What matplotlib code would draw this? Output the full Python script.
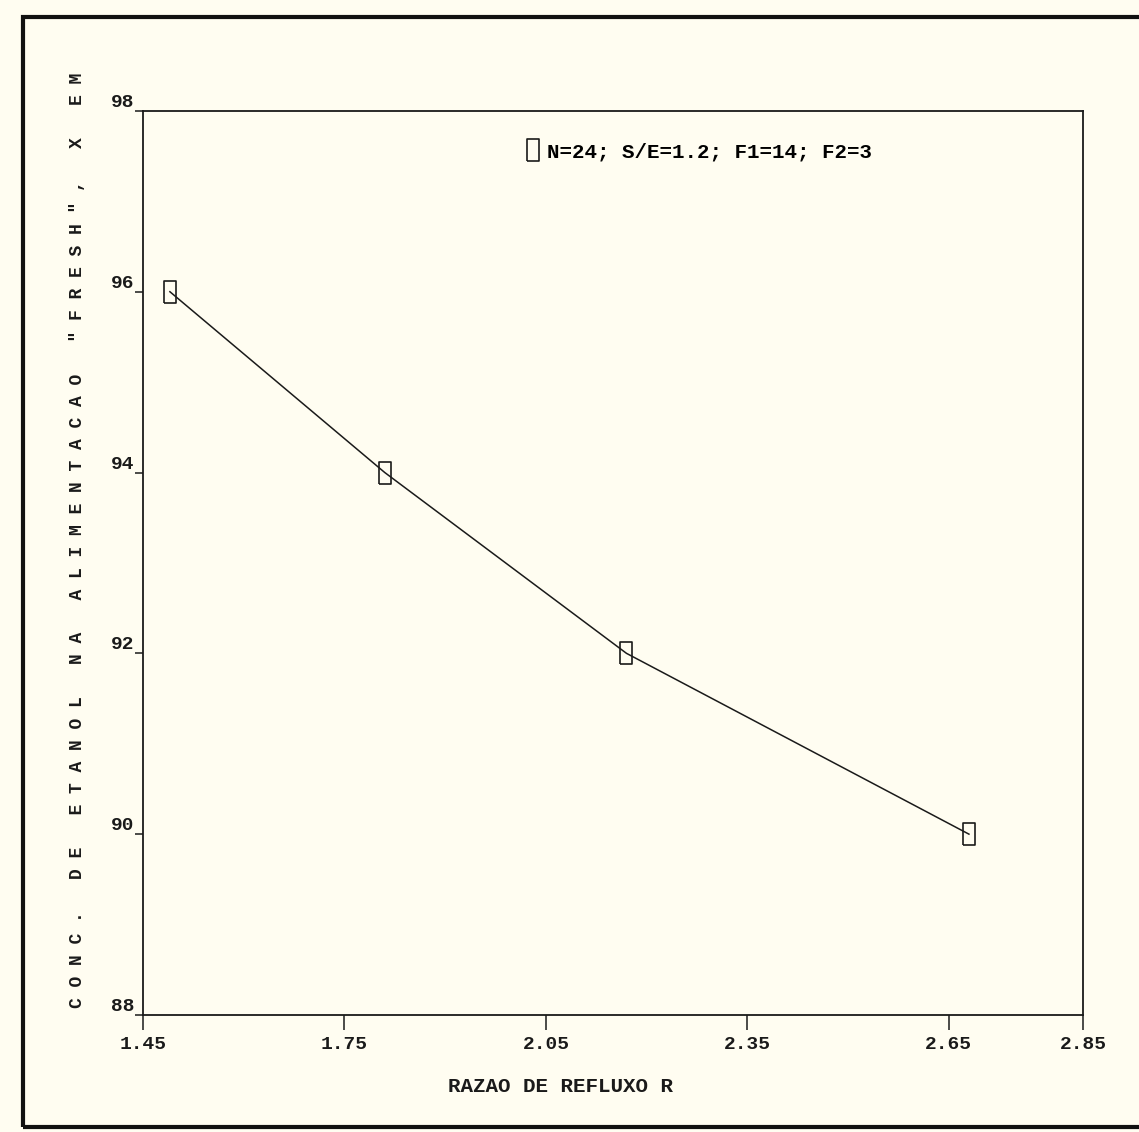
import matplotlib
matplotlib.use("Agg")
import matplotlib.pyplot as plt
from matplotlib.patches import Rectangle

# data
razao_refluxo = [1.49, 1.81, 2.17, 2.68]
conc_etanol = [96.0, 94.0, 92.0, 90.0]
serie_label = "N=24; S/E=1.2; F1=14; F2=3"

x_ticks = [1.45, 1.75, 2.05, 2.35, 2.65, 2.85]
y_ticks = [88, 90, 92, 94, 96, 98]

x_title = "RAZAO DE REFLUXO R"
y_title = 'CONC. DE ETANOL NA ALIMENTACAO "FRESH", X EM'

paper = "#fffdf1"
mono = ["Liberation Mono", "DejaVu Sans Mono"]

fig = plt.figure(figsize=(11.39, 11.32), dpi=100, facecolor=paper)
ax = fig.add_axes([0.1256, 0.1034, 0.8253, 0.7986], facecolor=paper)

# tall narrow box used by the old plotter
box = [(-0.55, -1), (0.55, -1), (0.55, 1), (-0.55, 1), (-0.55, -1)]

ax.plot(razao_refluxo, conc_etanol, color="#1a1a1a", lw=1.1,
        marker=box, markersize=16, markerfacecolor="none",
        markeredgecolor="#1a1a1a", markeredgewidth=1.2, label=serie_label)

ax.set_xlim(1.45, 2.85)
ax.set_ylim(88, 98)
ax.set_xticks(x_ticks)
ax.set_xticklabels([f"{v:.2f}" for v in x_ticks])
ax.set_yticks(y_ticks)
ax.set_yticklabels([str(v) for v in y_ticks])

for s in ax.spines.values():
    s.set_linewidth(1.3)
    s.set_color("#1a1a1a")

ax.tick_params(axis="x", direction="out", length=11, width=1.1, pad=4,
               labelsize=14, colors="#1a1a1a")
ax.tick_params(axis="y", direction="out", length=6, width=1.1, pad=0,
               labelsize=14, colors="#1a1a1a")
for lab in ax.get_xticklabels() + ax.get_yticklabels():
    lab.set_family(mono)
    lab.set_weight("bold")
for lab in ax.get_yticklabels():
    lab.set_va("bottom")

leg = ax.legend(loc="center left", bbox_to_anchor=(533 / 1139, 1 - 152 / 1132),
                bbox_transform=fig.transFigure, frameon=False, handlelength=0,
                handletextpad=0.65, borderpad=0, borderaxespad=0,
                prop={"family": mono, "weight": "bold", "size": 15})

fig.text(560 / 1139, 1 - 1087 / 1132, x_title, ha="center", va="center",
         family=mono, weight="bold", size=15, color="#1a1a1a")
fig.text(78 / 1139, 1 - 540 / 1132, " ".join(y_title), rotation=90,
         ha="center", va="center", family=mono, weight="bold", size=13,
         color="#1a1a1a")

# page frame around the figure
fig.add_artist(Rectangle((23 / 1139, 1 - 1127 / 1132), 1.2, (1127 - 17) / 1132,
                         transform=fig.transFigure, fill=False,
                         edgecolor="#111111", lw=3))

fig.savefig("out.png", dpi=100, facecolor=paper)
